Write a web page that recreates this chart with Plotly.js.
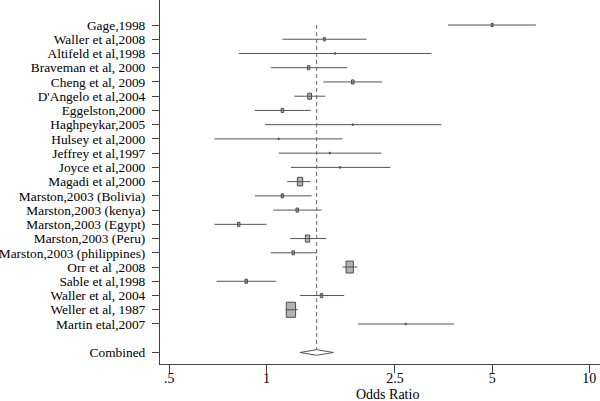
<!DOCTYPE html>
<html>
<head>
<meta charset="utf-8">
<script src="https://cdn.plot.ly/plotly-3.0.1.min.js"></script>
<style>html,body{margin:0;padding:0;background:#fff}#chart{width:600px;height:401px}</style>
</head>
<body>
<div id="chart"></div>
<script>
// ---- data ----
const studies = [
  "Gage,1998", "Waller et al,2008", "Altifeld et al,1998", "Braveman et al, 2000",
  "Cheng et al, 2009", "D'Angelo et al,2004", "Eggelston,2000", "Haghpeykar,2005",
  "Hulsey et al,2000", "Jeffrey et al,1997", "Joyce et al,2000", "Magadi et al,2000",
  "Marston,2003 (Bolivia)", "Marston,2003 (kenya)", "Marston,2003 (Egypt)",
  "Marston,2003 (Peru)", "Marston,2003 (philippines)", "Orr et al ,2008",
  "Sable et al,1998", "Waller et al, 2004", "Weller et al, 1987", "Martin etal,2007"
];
const oddsRatio = [5.0, 1.51, 1.63, 1.35, 1.85, 1.36, 1.12, 1.85, 1.09, 1.57, 1.69, 1.27,
                   1.12, 1.245, 0.82, 1.34, 1.21, 1.81, 0.865, 1.48, 1.19, 2.70];
const ciLow     = [3.65, 1.12, 0.82, 1.03, 1.50, 1.22, 0.92, 0.99, 0.69, 1.09, 1.19, 1.16,
                   0.92, 1.05, 0.69, 1.185, 1.03, 1.72, 0.70, 1.27, 1.146, 1.92];
const ciHigh    = [6.83, 2.04, 3.24, 1.78, 2.28, 1.52, 1.37, 3.48, 1.72, 2.27, 2.42, 1.37,
                   1.38, 1.48, 1.00, 1.53, 1.43, 1.91, 1.07, 1.74, 1.25, 3.81];
const weights   = [1.5, 1.5, 0.4, 2.3, 2.3, 5.2, 2.3, 0.4, 0.4, 0.4, 0.4, 10.5,
                   2.3, 2.3, 2.3, 7.0, 2.3, 20.0, 2.3, 2.3, 32.0, 0.4];
const combinedLabel = "Combined";
const combinedOR = 1.43, combinedLow = 1.27, combinedHigh = 1.61;
const xTickVals = [0.5, 1, 2.5, 5, 10];
const xTickText = [".5", "1", "2.5", "5", "10"];
const xTitle = "Odds Ratio";

// ---- layout geometry (style) ----
const W = 600, H = 401, ML = 160, MB = 37;
const plotW = W - ML, plotH = H - MB;
const xRange = [-0.330, 1.033];
const yRange = [24.81, -0.756];
const pxPerDecade = plotW / (xRange[1] - xRange[0]);
const pxPerRow = plotH / (yRange[0] - yRange[1]);
const serif = "Liberation Serif, Times New Roman, serif";

const rows = studies.map((_, i) => i + 1);
const combinedRow = studies.length + 2;

// CI lines
const lx = [], ly = [];
rows.forEach((r, i) => { lx.push(ciLow[i], ciHigh[i], null); ly.push(r, r, null); });

// weight boxes (area proportional to weight)
const bx = [], by = [];
rows.forEach((r, i) => {
  const w = 1.644 * Math.sqrt(weights[i]);   // px width
  const h = w * 1.62;                          // px height
  const f = Math.pow(10, (w / 2) / pxPerDecade);
  const dy = (h / 2) / pxPerRow;
  const a = oddsRatio[i] / f, b = oddsRatio[i] * f;
  bx.push(a, b, b, a, a, null);
  by.push(r - dy, r - dy, r + dy, r + dy, r - dy, null);
});

const dh = 2.8 / pxPerRow;
const traces = [
  { type: "scatter", mode: "lines", x: bx, y: by, fill: "toself", fillcolor: "#b3b3b3",
    line: { color: "#4d4d4d", width: 1 }, hoverinfo: "skip", showlegend: false },
  { type: "scatter", mode: "lines", x: lx, y: ly, line: { color: "#555555", width: 1 },
    hoverinfo: "skip", showlegend: false },
  { type: "scatter", mode: "lines", x: [combinedOR, combinedOR], y: [rows[0], combinedRow - dh],
    line: { color: "#666666", width: 1, dash: "4px,3px" }, hoverinfo: "skip", showlegend: false },
  { type: "scatter", mode: "lines",
    x: [combinedLow, combinedOR, combinedHigh, combinedOR, combinedLow],
    y: [combinedRow, combinedRow - dh, combinedRow, combinedRow + dh, combinedRow],
    fill: "toself", fillcolor: "#ffffff", line: { color: "#555555", width: 1 },
    hoverinfo: "skip", showlegend: false }
];

const layout = {
  width: W, height: H,
  margin: { l: ML, r: 0, t: 0, b: MB, pad: 0 },
  paper_bgcolor: "#fff", plot_bgcolor: "#fff",
  showlegend: false,
  xaxis: {
    type: "log", range: xRange, tickvals: xTickVals, ticktext: xTickText,
    showgrid: false, zeroline: false, showline: true, linecolor: "#444", linewidth: 1,
    ticks: "outside", ticklen: 8, tickcolor: "#444", tickwidth: 1, ticklabelstandoff: -7,
    tickfont: { family: serif, size: 14, color: "#000" }
  },
  yaxis: {
    range: yRange, tickvals: rows.concat([combinedRow]), ticktext: studies.concat([combinedLabel]),
    showgrid: false, zeroline: false, showline: true, linecolor: "#444", linewidth: 1,
    ticks: "outside", ticklen: 7, tickcolor: "#444", tickwidth: 1, ticklabelstandoff: 4,
    tickfont: { family: serif, size: 13.4, color: "#000" }
  },
  annotations: [{
    text: xTitle, xref: "paper", yref: "paper", x: (387 - ML) / plotW, y: (plotH - 394.5) / plotH,
    xanchor: "center", yanchor: "middle", showarrow: false,
    font: { family: serif, size: 14, color: "#000" }
  }]
};

Plotly.newPlot("chart", traces, layout, { staticPlot: true, displayModeBar: false });
</script>
</body>
</html>
